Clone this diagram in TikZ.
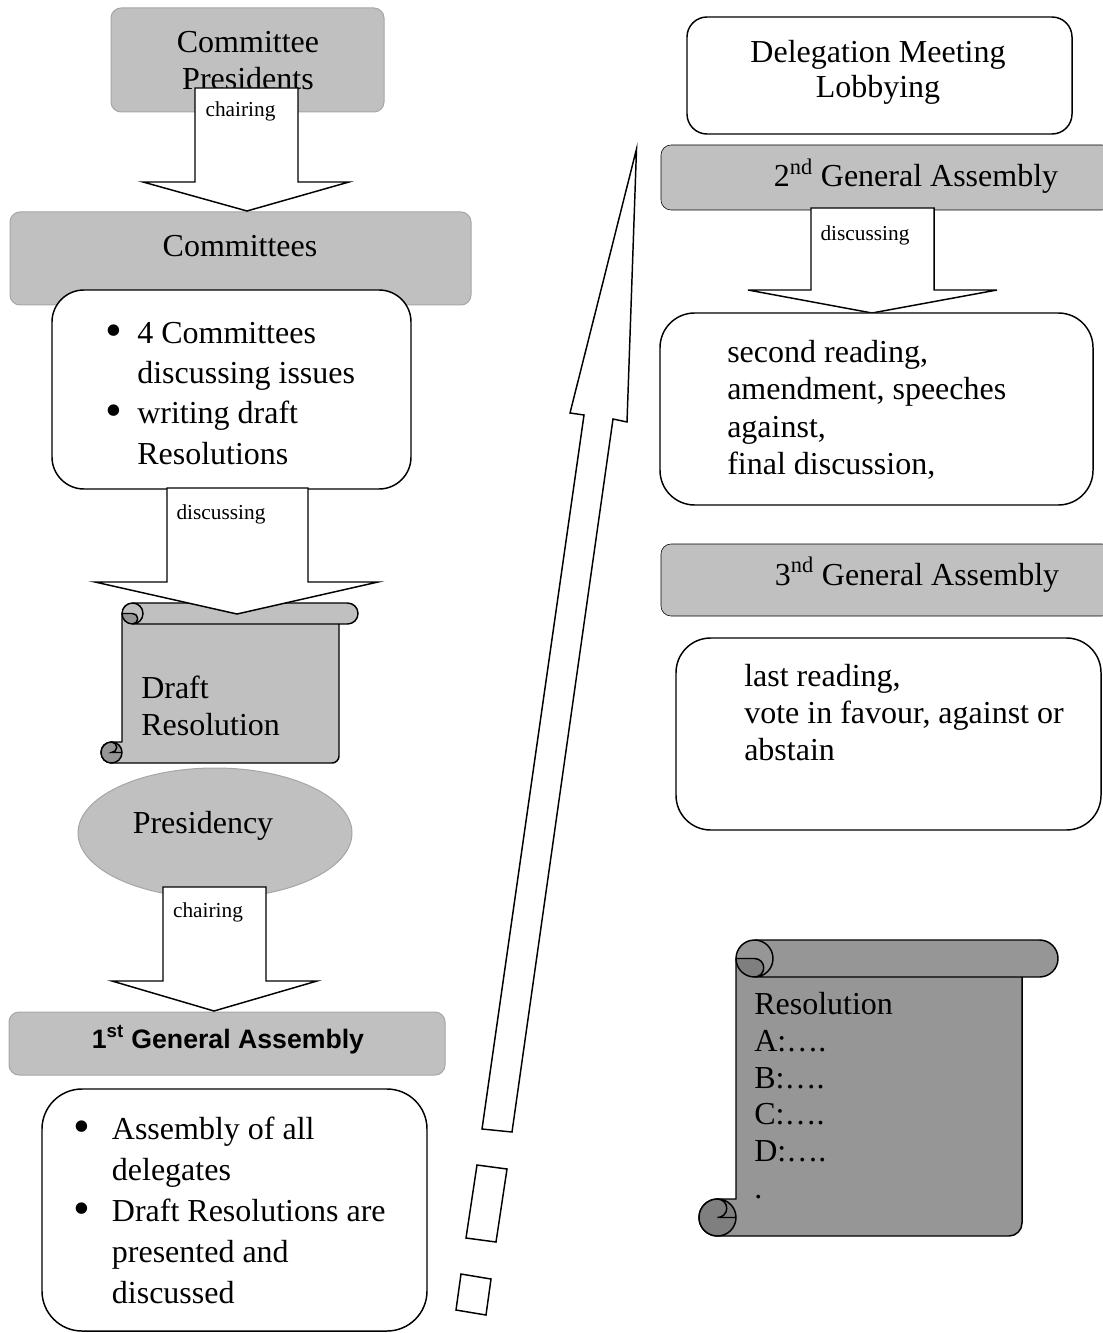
\documentclass[tikz,border=0pt]{standalone}
\usepackage{fontspec}
\setmainfont{Liberation Serif}
\newfontfamily\arialfont{Liberation Sans}

\begin{document}
\begin{tikzpicture}[x=0.75pt,y=0.75pt,yscale=-1,xscale=1,
  graybox/.style={draw={rgb, 255:red, 166; green, 166; blue, 166}, fill={rgb, 255:red, 192; green, 192; blue, 192}, line width=0.75pt, rounded corners=7.5pt},
  grayband/.style={fill={rgb, 255:red, 192; green, 192; blue, 192}, rounded corners=7.5pt},
  whitebox/.style={draw={rgb, 255:red, 0; green, 0; blue, 0}, fill=white, line width=1.1pt},
  blockarrow/.style={draw={rgb, 255:red, 0; green, 0; blue, 0}, fill=white, line width=1.1pt},
  paperlight/.style={draw=black, line width=1.1pt, line join=round, fill={rgb, 255:red, 192; green, 192; blue, 192}},
  papermid/.style={draw=black, line width=1.1pt, line join=round, fill={rgb, 255:red, 150; green, 150; blue, 150}},
  paperdark/.style={draw=black, line width=1.1pt, line join=round, fill={rgb, 255:red, 127; green, 127; blue, 127}},
  bigtext/.style={font=\fontsize{24}{27.75}\selectfont, inner sep=0pt},
  smalltext/.style={font=\fontsize{16}{19}\selectfont, inner sep=0pt}
]
\useasboundingbox (0,0) rectangle (1102,1333);
%Shape: Rectangle
\draw[graybox] (111,8) rectangle (384,112);
% Text Node
\draw (248,90) node[bigtext, anchor=base, align=center] (presT) {Committee\\Presidents};
%Shape: Rectangle
\draw[graybox] (10,212) rectangle (471,305);
% Text Node
\draw (240,257) node[bigtext, anchor=base] (commT) {Committees};
%Shape: Rounded Rectangle
\draw[whitebox, rounded corners=24pt] (52,290) rectangle (411,489);
% Text Node
\draw (105,464) node[bigtext, font=\fontsize{24}{30.2}\selectfont, anchor=base west, align=left] (commList) {\makebox[24pt][l]{\raisebox{-0.1em}{\scalebox{1.5}{\textbullet}}}4 Committees\\\hspace*{24pt}discussing issues\\\makebox[24pt][l]{\raisebox{-0.1em}{\scalebox{1.5}{\textbullet}}}writing draft\\\hspace*{24pt}Resolutions};
%Shape: Down Arrow
\draw[blockarrow] (195,88) -- (195,182) -- (143,182) -- (247,211) -- (349,182) -- (298,182) -- (298,88) -- cycle;
% Text Node
\draw (240.5,117) node[smalltext, anchor=base] (chairT) {chairing};
%Shape: Vertical Scroll
\draw[paperlight] (122,613.5) arc[start angle=180, end angle=270, radius=10.5] -- (347.5,603) arc[start angle=270, end angle=450, radius=10.5] -- (339,624) -- (339,756) arc[start angle=0, end angle=90, radius=7] -- (111.5,763) arc[start angle=90, end angle=270, radius=10.5] -- (122,742) -- cycle;
\draw[papermid] (122,613.5) arc[start angle=180, end angle=90, radius=10.5] arc[start angle=90, end angle=-90, radius=5.25] -- cycle;
\draw[line width=1.1pt] (132.5,603) arc[start angle=270, end angle=450, radius=10.5] -- (339,624);
\draw[papermid] (111.5,752.5) circle[radius=10.5];
\draw[line width=1.1pt] (111.5,742) arc[start angle=-90, end angle=90, radius=5.25] -- (122,752.5);
% Text Node
\draw (141,735) node[bigtext, anchor=base west, align=left] (draftT) {Draft\\Resolution};
%Shape: Down Arrow
\draw[blockarrow] (167,488) -- (167,582) -- (95,582) -- (237,614) -- (378,582) -- (308,582) -- (308,488) -- cycle;
% Text Node
\draw (221,519) node[smalltext, anchor=base] (discT) {discussing};
%Shape: Ellipse
\draw[graybox] (215,833) ellipse[x radius=137, y radius=65];
% Text Node
\draw (203,833) node[bigtext, anchor=base] (presidencyT) {Presidency};
%Shape: Rectangle
\draw[graybox] (9,1012) rectangle (445,1075);
% Text Node
\draw (228,1048) node[inner sep=0pt, font=\arialfont\bfseries\fontsize{20}{24}\selectfont, anchor=base] (gaOneT) {1\textsuperscript{st} General Assembly};
%Shape: Down Arrow
\draw[blockarrow] (163,887) -- (163,981) -- (112,981) -- (214,1011) -- (317,981) -- (266,981) -- (266,887) -- cycle;
% Text Node
\draw (208,917) node[smalltext, anchor=base] (chairTT) {chairing};
%Shape: Rounded Rectangle
\draw[whitebox, rounded corners=30pt] (42,1089) rectangle (427,1331);
% Text Node
\draw (73,1303) node[bigtext, font=\fontsize{24}{30.75}\selectfont, anchor=base west, align=left] (gaOneList) {\makebox[29pt][l]{\raisebox{-0.1em}{\scalebox{1.5}{\textbullet}}}Assembly of all\\\hspace*{29pt}delegates\\\makebox[29pt][l]{\raisebox{-0.1em}{\scalebox{1.5}{\textbullet}}}Draft Resolutions are\\\hspace*{29pt}presented and\\\hspace*{29pt}discussed};
%Shape: Striped Arrow
\draw[blockarrow] (636.5,149) -- (627,422) -- (613,419) -- (512,1132) -- (482,1129) -- (584,415) -- (570,413) -- cycle;
\draw[blockarrow] (477,1165) -- (507,1169) -- (496,1242) -- (466,1238) -- cycle;
\draw[blockarrow] (461,1274) -- (491,1279) -- (486,1315) -- (456,1310) -- cycle;
%Shape: Rounded Rectangle
\draw[whitebox, rounded corners=15pt] (687,17) rectangle (1072,134);
% Text Node
\draw (878,98) node[bigtext, font=\fontsize{24}{26.25}\selectfont, anchor=base, align=center] (delegT) {Delegation Meeting\\Lobbying};
%Shape: Rectangle
\draw[grayband] (661,145) rectangle (1112,210);
% Text Node
\draw (916,187) node[bigtext, anchor=base] (gaTwoT) {2\textsuperscript{nd} General Assembly};
%Shape: Down Arrow
\draw[blockarrow] (811,208) -- (811,290) -- (748,290) -- (872,313) -- (997,290) -- (934,290) -- (934,208) -- cycle;
% Text Node
\draw (865,241) node[smalltext, anchor=base] (discTT) {discussing};
%Shape: Rounded Rectangle
\draw[whitebox, rounded corners=26pt] (660,313) rectangle (1093,505);
% Text Node
\draw (727,474.5) node[bigtext, font=\fontsize{24}{28.1}\selectfont, anchor=base west, align=left] (gaTwoText) {second reading,\\amendment, speeches\\against,\\final discussion,};
%Shape: Rectangle
\draw[grayband] (661,544) rectangle (1112,616);
% Text Node
\draw (917,585) node[bigtext, anchor=base] (gaThreeT) {3\textsuperscript{nd} General Assembly};
%Shape: Rounded Rectangle
\draw[whitebox, rounded corners=26pt] (676,638) rectangle (1101,830);
% Text Node
\draw (744,760) node[bigtext, font=\fontsize{24}{27.4}\selectfont, anchor=base west, align=left] (gaThreeText) {last reading,\\vote in favour, against or\\abstain};
%Shape: Vertical Scroll
\draw[papermid] (736,958.5) arc[start angle=180, end angle=270, radius=18.5] -- (1039.5,940) arc[start angle=270, end angle=450, radius=18.5] -- (1022,977) -- (1022,1223) arc[start angle=0, end angle=90, radius=13] -- (717.5,1236) arc[start angle=90, end angle=270, radius=18.5] -- (736,1199) -- cycle;
\draw[paperdark] (736,958.5) arc[start angle=180, end angle=90, radius=18.5] arc[start angle=90, end angle=-90, radius=9.25] -- cycle;
\draw[line width=1.1pt] (754.5,940) arc[start angle=270, end angle=450, radius=18.5] -- (1022,977);
\draw[paperdark] (717.5,1217.5) circle[radius=18.5];
\draw[line width=1.1pt] (717.5,1199) arc[start angle=-90, end angle=90, radius=9.25] -- (736,1217.5);
% Text Node
\draw (754,1198) node[bigtext, font=\fontsize{24}{27.5}\selectfont, anchor=base west, align=left] (resT) {Resolution\\A:….\\B:….\\C:….\\D:….\\.};
\end{tikzpicture}
\end{document}
